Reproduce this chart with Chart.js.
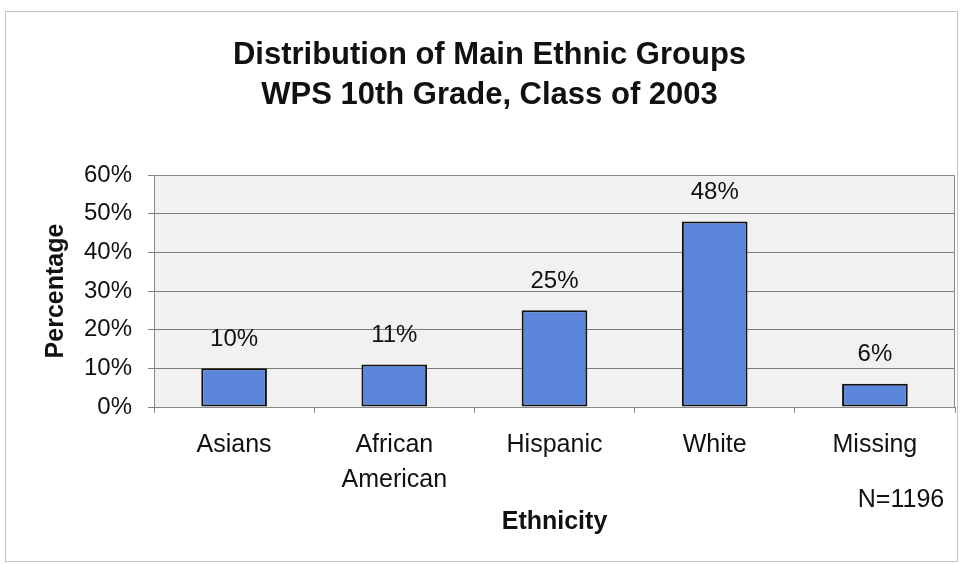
<!DOCTYPE html>
<html>
<head>
<meta charset="utf-8">
<script src="https://cdn.jsdelivr.net/npm/chart.js@4.4.1/dist/chart.umd.min.js"></script>
<style>
  html, body { margin: 0; padding: 0; background: #ffffff; }
  #wrap { width: 961px; height: 564px; position: relative; }
</style>
</head>
<body>
<div id="wrap"><canvas id="c" width="961" height="564"></canvas></div>
<script>
// ---- data ----
const categories = [["Asians"], ["African", "American"], ["Hispanic"], ["White"], ["Missing"]];
const percentages = [10, 11, 25, 48, 6];
const yTickValues = [0, 10, 20, 30, 40, 50, 60];
const titleLines = ["Distribution of Main Ethnic Groups", "WPS 10th Grade, Class of 2003"];
const xAxisTitle = "Ethnicity";
const yAxisTitle = "Percentage";
const noteText = "N=1196";

const FONT = "'Liberation Sans', Arial, Helvetica, sans-serif";

const plotBackground = {
  id: 'plotBackground',
  beforeDraw(chart) {
    const { ctx, chartArea: a } = chart;
    ctx.save();
    // outer frame
    ctx.strokeStyle = '#c4c4c4';
    ctx.lineWidth = 1;
    ctx.strokeRect(5.5, 11.5, 952, 550);
    // plot area background
    ctx.fillStyle = '#f1f1f1';
    ctx.fillRect(a.left, a.top, a.right - a.left, a.bottom - a.top);
    ctx.restore();
  },
  afterDraw(chart) {
    const { ctx, chartArea: a } = chart;
    ctx.save();
    ctx.strokeStyle = '#8a8a8a';
    ctx.lineWidth = 1;
    ctx.beginPath();
    ctx.moveTo(a.left, a.top + 0.5);
    ctx.lineTo(a.right - 0.5, a.top + 0.5);
    ctx.lineTo(a.right - 0.5, a.bottom);
    ctx.stroke();
    // note
    ctx.fillStyle = '#111';
    ctx.font = '25px ' + FONT;
    ctx.textAlign = 'center';
    ctx.textBaseline = 'middle';
    ctx.fillText(noteText, 901, 500);
    ctx.restore();
  }
};

const valueLabels = {
  id: 'valueLabels',
  afterDatasetsDraw(chart) {
    const { ctx } = chart;
    const meta = chart.getDatasetMeta(0);
    ctx.save();
    ctx.fillStyle = '#111';
    ctx.font = '24px ' + FONT;
    ctx.textAlign = 'center';
    ctx.textBaseline = 'middle';
    meta.data.forEach((bar, i) => {
      ctx.fillText(percentages[i] + '%', bar.x, bar.y - 29);
    });
    ctx.restore();
  }
};

new Chart(document.getElementById('c'), {
  type: 'bar',
  data: {
    labels: categories,
    datasets: [{
      data: percentages,
      backgroundColor: '#5b86dc',
      borderColor: '#111111',
      borderWidth: 2,
      borderSkipped: false,
      categoryPercentage: 1.0,
      barPercentage: 0.41
    }]
  },
  options: {
    responsive: false,
    animation: false,
    devicePixelRatio: 1,
    layout: { padding: { left: 24, right: 6, top: 0, bottom: 10 } },
    plugins: {
      legend: { display: false },
      tooltip: { enabled: false },
      title: {
        display: true,
        text: titleLines,
        color: '#111',
        font: { family: FONT, size: 31, weight: 'bold', lineHeight: '40px' },
        padding: { top: 35, bottom: 60 }
      }
    },
    scales: {
      x: {
        grid: { drawOnChartArea: false, drawTicks: true, tickLength: 6, color: '#888', offset: true },
        border: { display: true, color: '#888', width: 1 },
        ticks: {
          color: '#111',
          font: { family: FONT, size: 25, lineHeight: 1.4 },
          padding: 15,
          maxRotation: 0,
          autoSkip: false
        },
        title: {
          display: true,
          text: xAxisTitle,
          color: '#111',
          font: { family: FONT, size: 25, weight: 'bold' },
          padding: { top: 0, bottom: 17 }
        },
        afterFit(scale) { scale.height = 147; }
      },
      y: {
        min: 0,
        max: 60,
        afterBuildTicks(scale) { scale.ticks = yTickValues.map(v => ({ value: v })); },
        grid: { color: '#7d7d7d', lineWidth: 1, drawTicks: true, tickLength: 6 },
        border: { display: true, color: '#888', width: 1 },
        ticks: {
          color: '#111',
          font: { family: FONT, size: 24 },
          padding: 16,
          callback: v => v + '%'
        },
        title: {
          display: true,
          text: yAxisTitle,
          color: '#111',
          font: { family: FONT, size: 25, weight: 'bold' },
          padding: { top: 17, bottom: 0 }
        },
        afterFit(scale) { scale.width = 130; }
      }
    }
  },
  plugins: [plotBackground, valueLabels]
});
</script>
</body>
</html>
